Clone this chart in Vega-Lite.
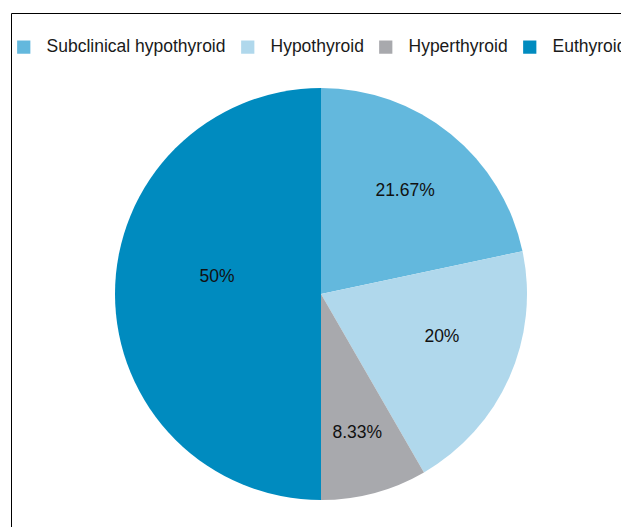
{
  "$schema": "https://vega.github.io/schema/vega-lite/v6.json",
  "width": 620,
  "height": 562,
  "padding": {"left": 11, "top": 13, "right": 0, "bottom": 0},
  "view": {"stroke": "#000000", "strokeWidth": 1},
  "config": {
    "view": {"stroke": "#000000", "strokeWidth": 1},
    "font": "Liberation Sans"
  },
  "data": {
    "values": [
      {"category": "Subclinical hypothyroid", "value": 21.67, "label": "21.67%"},
      {"category": "Hypothyroid", "value": 20, "label": "20%"},
      {"category": "Hyperthyroid", "value": 8.33, "label": "8.33%"},
      {"category": "Euthyroid", "value": 50, "label": "50%"}
    ]
  },
  "encoding": {
    "theta": {"field": "value", "type": "quantitative", "stack": true},
    "order": {"field": "category", "sort": "descending"}
  },
  "layer": [
    {
      "mark": {"type": "arc", "outerRadius": 206},
      "encoding": {
        "color": {
          "field": "category",
          "type": "nominal",
          "scale": {
            "domain": ["Subclinical hypothyroid", "Hypothyroid", "Hyperthyroid", "Euthyroid"],
            "range": ["#63b8dd", "#b0d8ec", "#a8a9ad", "#008bbf"]
          },
          "legend": {
            "title": null,
            "orient": "none",
            "legendX": 4,
            "legendY": 25,
            "direction": "horizontal",
            "symbolType": "square",
            "symbolSize": 175,
            "symbolStrokeWidth": 0,
            "symbolOpacity": 1,
            "labelFontSize": 17.5,
            "labelFont": "Liberation Sans",
            "labelColor": "#1a1a1a",
            "labelOffset": 14,
            "labelLimit": 400,
            "columnPadding": 13,
            "padding": 0
          }
        }
      }
    },
    {
      "mark": {"type": "text", "radius": 132, "dx": 1, "fontSize": 17.5, "color": "#111111"},
      "encoding": {
        "text": {"condition": {"test": "datum.category === 'Subclinical hypothyroid'", "field": "label"}, "value": ""}
      }
    },
    {
      "mark": {"type": "text", "radius": 128, "dx": 4, "dy": -9, "fontSize": 17.5, "color": "#111111"},
      "encoding": {
        "text": {"condition": {"test": "datum.category === 'Hypothyroid'", "field": "label"}, "value": ""}
      }
    },
    {
      "mark": {"type": "text", "radius": 144, "dx": -1, "fontSize": 17.5, "color": "#111111"},
      "encoding": {
        "text": {"condition": {"test": "datum.category === 'Hyperthyroid'", "field": "label"}, "value": ""}
      }
    },
    {
      "mark": {"type": "text", "radius": 105, "dx": 1, "dy": -17, "fontSize": 17.5, "color": "#111111"},
      "encoding": {
        "text": {"condition": {"test": "datum.category === 'Euthyroid'", "field": "label"}, "value": ""}
      }
    }
  ]
}
